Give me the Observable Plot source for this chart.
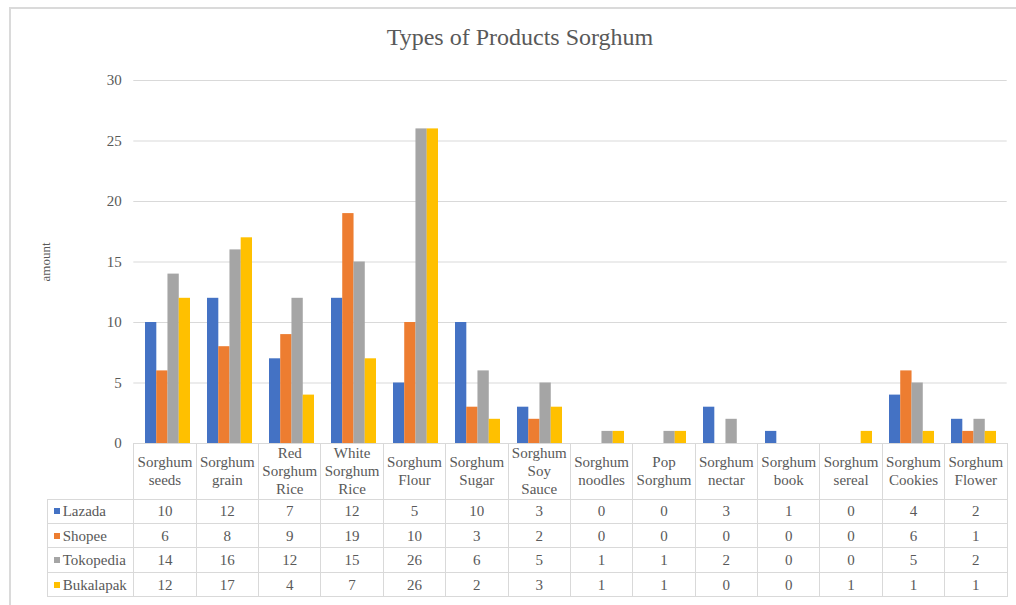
<!DOCTYPE html>
<html>
<head>
<meta charset="utf-8">
<script src="https://cdn.jsdelivr.net/npm/d3@7"></script>
<script src="https://cdn.jsdelivr.net/npm/@observablehq/plot@0.6"></script>
<style>
  html, body { margin: 0; padding: 0; background: #fff; }
  #wrap { position: relative; width: 1016px; height: 605px; overflow: hidden; font-family: "Liberation Serif", serif; color: #595959; }
  #frame { position: absolute; left: 9px; top: 7px; width: 1100px; height: 700px; border-left: 2px solid #dadada; border-top: 2px solid #dadada; }
  #title { position: absolute; left: 270px; width: 500px; top: 24px; text-align: center; font-size: 24px; color: #595959; }
  #plot { position: absolute; left: 0; top: 0; }
  #tbl { position: absolute; left: 46.7px; top: 442.7px; border-collapse: collapse; table-layout: fixed; font-size: 15px; color: #595959; }
  #tbl td { border: 1px solid #d9d9d9; padding: 0; text-align: center; vertical-align: middle; box-sizing: border-box; }
  #tbl tr.head td { height: 56px; line-height: 18px; white-space: pre-line; }
  #tbl tr.head td.blank { border-top: none; border-left: none; }
  #tbl tr.data td { height: 24.4px; line-height: 20px; }
  #tbl td.name { text-align: left; padding-left: 6px; white-space: nowrap; }
  .key { display: inline-block; width: 6px; height: 6px; margin-right: 3px; vertical-align: 2px; }
</style>
</head>
<body>
<div id="wrap">
  <div id="frame"></div>
  <div id="title">Types of Products Sorghum</div>
  <div id="plot"></div>
</div>
<script>
const categories = ["Sorghum seeds", "Sorghum grain", "Red Sorghum Rice", "White Sorghum Rice", "Sorghum Flour", "Sorghum Sugar", "Sorghum Soy Sauce", "Sorghum noodles", "Pop Sorghum", "Sorghum nectar", "Sorghum book", "Sorghum sereal", "Sorghum Cookies", "Sorghum Flower"];
const categoryLabels = ["Sorghum\nseeds", "Sorghum\ngrain", "Red\nSorghum\nRice", "White\nSorghum\nRice", "Sorghum\nFlour", "Sorghum\nSugar", "Sorghum\nSoy\nSauce", "Sorghum\nnoodles", "Pop\nSorghum", "Sorghum\nnectar", "Sorghum\nbook", "Sorghum\nsereal", "Sorghum\nCookies", "Sorghum\nFlower"];
const seriesNames = ["Lazada", "Shopee", "Tokopedia", "Bukalapak"];
const seriesColors = ["#4472c4", "#ed7d31", "#a5a5a5", "#ffc000"];
const lazada    = [10, 12, 7, 12, 5, 10, 3, 0, 0, 3, 1, 0, 4, 2];
const shopee    = [6, 8, 9, 19, 10, 3, 2, 0, 0, 0, 0, 0, 6, 1];
const tokopedia = [14, 16, 12, 15, 26, 6, 5, 1, 1, 2, 0, 0, 5, 2];
const bukalapak = [12, 17, 4, 7, 26, 2, 3, 1, 1, 0, 0, 1, 1, 1];
const yTicks = [0, 5, 10, 15, 20, 25, 30];
const yLabel = "amount";

const seriesValues = [lazada, shopee, tokopedia, bukalapak];
const rows = categories.map((c, i) => {
  const r = {category: c};
  seriesNames.forEach((s, k) => r[s] = seriesValues[k][i]);
  return r;
});

const W = 1016, H = 445;
const mL = 133.3, mR = 9.3, mT = 80, mB = 2;
const padInner = 0.28, padOuter = 0.14;
const step = (W - mL - mR) / categories.length;
const bandW = step * (1 - padInner);
const barW = bandW / seriesNames.length;

const bars = seriesNames.map((s, k) => Plot.barY(rows.filter(r => r[s] > 0), {
  x: "category", y: s, fill: seriesColors[k],
  insetLeft: k * barW, insetRight: (seriesNames.length - 1 - k) * barW
}));

const chart = Plot.plot({
  width: W, height: H,
  marginLeft: mL, marginRight: mR, marginTop: mT, marginBottom: mB,
  style: {fontFamily: '"Liberation Serif", serif', color: "#595959", background: "transparent", overflow: "visible"},
  x: {type: "band", domain: categories, paddingInner: padInner, paddingOuter: padOuter, axis: null},
  y: {domain: [0, 30]},
  marks: [
    Plot.gridY(yTicks, {stroke: "#d9d9d9", strokeOpacity: 1, strokeWidth: 1}),
    ...bars,
    Plot.axisY(yTicks, {tickSize: 0, tickPadding: 12, fontSize: 15, label: null}),
    Plot.axisY([], {label: yLabel, labelAnchor: "center", labelOffset: 93, labelArrow: "none", fontSize: 13})
  ]
});
document.getElementById("plot").appendChild(chart);

// data table below the plot, columns aligned with the x band scale steps
const tbl = document.createElement("table");
tbl.id = "tbl";
const cg = document.createElement("colgroup");
const c0 = document.createElement("col"); c0.style.width = (mL - 46.7) + "px"; cg.appendChild(c0);
categories.forEach(() => { const c = document.createElement("col"); c.style.width = step + "px"; cg.appendChild(c); });
tbl.appendChild(cg);
const head = document.createElement("tr"); head.className = "head";
const blank = document.createElement("td"); blank.className = "blank"; head.appendChild(blank);
categoryLabels.forEach(l => { const td = document.createElement("td"); td.textContent = l; head.appendChild(td); });
tbl.appendChild(head);
seriesNames.forEach((s, k) => {
  const tr = document.createElement("tr"); tr.className = "data";
  const nm = document.createElement("td"); nm.className = "name";
  const key = document.createElement("span"); key.className = "key"; key.style.background = seriesColors[k];
  nm.appendChild(key); nm.appendChild(document.createTextNode(s));
  tr.appendChild(nm);
  seriesValues[k].forEach(v => { const td = document.createElement("td"); td.textContent = v; tr.appendChild(td); });
  tbl.appendChild(tr);
});
document.getElementById("wrap").appendChild(tbl);
</script>
</body>
</html>
